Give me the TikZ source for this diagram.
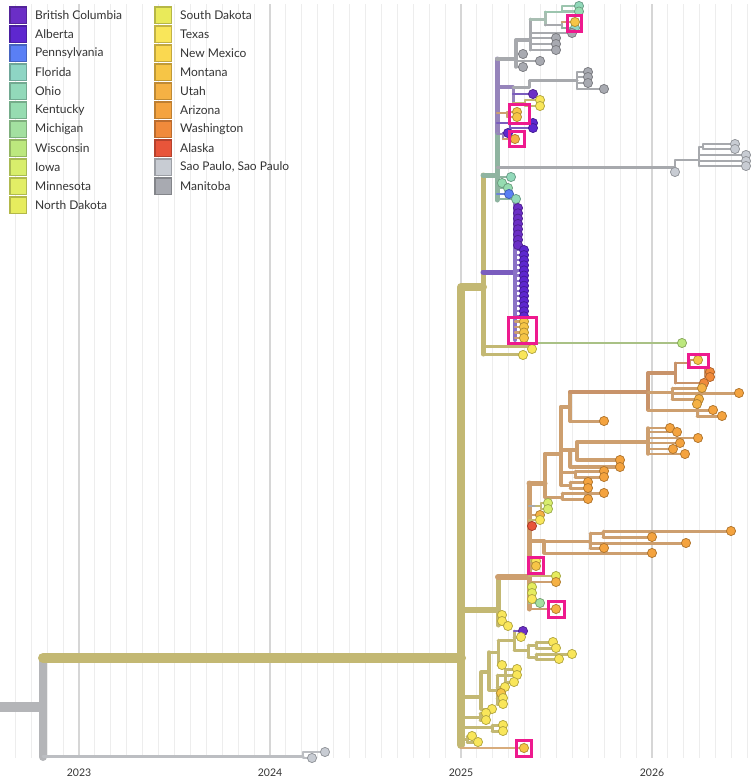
\documentclass[tikz,border=0pt]{standalone}
\usepackage{fontspec}
\setmainfont{Lato}
\definecolor{cBC}{HTML}{6B2EC6}
\definecolor{cAB}{HTML}{5E27CF}
\definecolor{cPA}{HTML}{5A7FF5}
\definecolor{cFL}{HTML}{8ED5C4}
\definecolor{cOH}{HTML}{92D9BA}
\definecolor{cKY}{HTML}{96DCB1}
\definecolor{cMI}{HTML}{A3E0A0}
\definecolor{cWI}{HTML}{BCE87E}
\definecolor{cIA}{HTML}{D8EE6C}
\definecolor{cMN}{HTML}{E2EE66}
\definecolor{cND}{HTML}{E6EC5E}
\definecolor{cSD}{HTML}{E9EA5A}
\definecolor{cTX}{HTML}{F9E65A}
\definecolor{cNM}{HTML}{FAD850}
\definecolor{cMT}{HTML}{F6C546}
\definecolor{cUT}{HTML}{F5B144}
\definecolor{cAZ}{HTML}{F4A33F}
\definecolor{cWA}{HTML}{F08A3B}
\definecolor{cAK}{HTML}{E8553A}
\definecolor{cSP}{HTML}{C8CCD3}
\definecolor{cMB}{HTML}{A8AAB1}
\definecolor{bOl}{HTML}{C3B873}
\definecolor{bRoot}{HTML}{B4B5B8}
\definecolor{bMB}{HTML}{A7A9AD}
\definecolor{bSP}{HTML}{BCBEC2}
\definecolor{bPG}{HTML}{9684BB}
\definecolor{bGG}{HTML}{8FB4A0}
\definecolor{bGr2}{HTML}{A8BEB2}
\definecolor{bGrn}{HTML}{9CC5AE}
\definecolor{bTan}{HTML}{CD9F6F}
\definecolor{bTanD}{HTML}{C8936A}
\definecolor{bTanL}{HTML}{D8AC7C}
\definecolor{bPu}{HTML}{7A5CBE}
\definecolor{bPuL}{HTML}{8B72C6}
\definecolor{bWI}{HTML}{A9C185}
\definecolor{bPA}{HTML}{6C84D8}
\definecolor{bMI}{HTML}{9CC9A0}
\definecolor{gridc}{HTML}{EDEDED}
\definecolor{yearc}{HTML}{D6D6D6}
\definecolor{boxc}{HTML}{EE1A8E}
\definecolor{txt}{HTML}{333333}
\newcommand\tipd[3]{\filldraw[fill=#3, draw=#3!72!black, line width=0.75] (#1,#2) circle[radius=4.6];}
\begin{document}
\begin{tikzpicture}[x=1pt,y=-1pt,line cap=round,line join=round]
\useasboundingbox (0,0) rectangle (753,779);
% grid
\foreach \k in {-4,...,42}{\draw[gridc,line width=1,line cap=butt] ({79+\k*15.9167},4) -- ({79+\k*15.9167},758);}
\foreach \xx in {79,270,461,652}{\draw[yearc,line width=2,line cap=butt] (\xx,4) -- (\xx,758);}
% root
\draw[bRoot,line width=10,line cap=butt] (0,707) -- (43,707);
\draw[bRoot,line width=8] (43,757) -- (43,662);
\draw[bOl,line width=10] (43,658) -- (461,658);
\draw[bSP,line width=3] (43,756) -- (303,756);
\draw[bSP,line width=2.5] (325,752) -- (303,752) -- (303,758) -- (312,758);
% main olive
\draw[bOl,line width=8] (483,287) -- (461,287) -- (461,745);
\draw[bOl,line width=5] (483,175) -- (483,354);
\draw[bGG,line width=5] (483,175) -- (497,175);
\draw[bPG,line width=5] (497,59) -- (497,135);
\draw[bGG,line width=5] (497,135) -- (497,200);
% top gray clade
\draw[bMB,line width=4] (497,59) -- (516,59);
\draw[bMB,line width=3.5] (516,40) -- (516,67);
\draw[bMB,line width=3.5] (516,40) -- (530,40);
\draw[bMB,line width=3] (530,19) -- (530,50);
\draw[bGr2,line width=3] (530,19) -- (545,19);
\draw[bGr2,line width=3] (545,12) -- (545,25);
\draw[bGrn,line width=2.5] (545,12) -- (562,12) (562,6) -- (562,11.5) (562,6) -- (579,6) (562,11.5) -- (579,11.5);
\draw[bMB,line width=2.5] (545,25) -- (562,25) (562,22) -- (562,28);
\draw[bTan,line width=2.5] (562,22) -- (575,22);
\draw[bGG,line width=2.5] (562,28) -- (575,28);
\draw[bMB,line width=2.5] (530,33) -- (572,33);
\draw[bMB,line width=2.5] (530,38) -- (556,38) (530,44) -- (556,44) (530,50) -- (556,50);
\draw[bMB,line width=2.5] (516,54) -- (523,54) (516,61) -- (540,61) (516,67) -- (523,67);
% purple-gray region
\draw[bPG,line width=3.5] (497,87) -- (513,87);
\draw[bPG,line width=3] (513,87) -- (513,103);
\draw[bMB,line width=3] (513,87) -- (529,87) -- (529,80) -- (577,80);
\draw[bMB,line width=2.5] (577,72) -- (577,89) (577,72) -- (588,72) (577,77) -- (588,77) (577,83) -- (588,83) (577,89) -- (604,89);
\draw[bPu,line width=2.5] (513,94) -- (533,94);
\draw[bOl,line width=2.5] (513,103) -- (525,103) (525,100) -- (525,106) (525,100) -- (540,100) (525,106) -- (540,106);
\draw[bTan,line width=2.5] (497,113) -- (507,113) (507,112) -- (507,117) (507,112) -- (517,112) (507,117) -- (517,117);
\draw[bPu,line width=2.5] (497,123) -- (510,123) (510,123) -- (510,128) (510,123) -- (533,123) (510,128) -- (533,128);
\draw[bPG,line width=2.5] (497,134) -- (503,134) (503,133) -- (503,139);
\draw[bPu,line width=2.5] (503,133) -- (508,133);
\draw[bTan,line width=2.5] (503,139) -- (515,139);
% Sao Paulo long branch
\draw[bMB,line width=3] (497,167) -- (675,167);
\draw[bMB,line width=2.5] (675,160) -- (675,172) (675,160) -- (699,160) (699,147) -- (699,166) (699,147) -- (703,147) (703,144) -- (703,149) (703,144) -- (735,144) (703,149) -- (735,149) (699,155) -- (746,155) (699,161) -- (746,161) (699,166) -- (746,166);
% green tips
\draw[bGG,line width=2.5] (497,177) -- (511,177) (497,188) -- (508,188) (497,199) -- (516,199);
\draw[bPA,line width=2.5] (497,194) -- (509,194);
% purple column
\draw[bPu,line width=5] (483,272) -- (515,272);
\draw[bPuL,line width=4] (515,203) -- (515,340);
\foreach \k in {0,...,7}{\draw[bPuL,line width=2.2] (515,{208+5.3*\k}) -- (518,{208+5.3*\k});}
\foreach \k in {0,...,13}{\draw[bPuL,line width=2.2] (515,{250+5.1*\k}) -- (524,{250+5.1*\k});}
\foreach \yy in {321.5,327,332.5,338}{\draw[bTan,line width=2.2] (515,\yy) -- (524,\yy);}
% lower x=483 branches
\draw[bOl,line width=3] (483,346) -- (530,346);
\draw[bOl,line width=2.5] (530,343) -- (530,349);
\draw[bWI,line width=2.5] (530,343) -- (682,343);
\draw[bOl,line width=3] (483,354) -- (523,354);
% olive lower / orange clade base
\draw[bOl,line width=6] (461,610) -- (498,610);
\draw[bOl,line width=5] (498,577) -- (498,625);
\draw[bTan,line width=6] (498,577) -- (529,577);
\draw[bTan,line width=5] (529,483) -- (529,609);
\draw[bOl,line width=2.5] (498,615) -- (502,615) (498,621) -- (502,621) (498,625) -- (508,625);
% orange clade
\draw[bTan,line width=5] (529,483) -- (545,483);
\draw[bTan,line width=4] (545,454) -- (545,497);
\draw[bTan,line width=4] (545,454) -- (561,454);
\draw[bTan,line width=4] (561,407) -- (561,485);
\draw[bTan,line width=4] (561,407) -- (570,407);
\draw[bTan,line width=4] (570,392) -- (570,421);
\draw[bTanD,line width=4] (570,392) -- (648,392);
\draw[bTanD,line width=3.5] (648,373) -- (648,410);
\draw[bTanD,line width=3.5] (648,373) -- (675,373);
\draw[bTanD,line width=3] (675,363) -- (675,383);
\draw[bTanD,line width=2.5] (675,363) -- (690,363) (690,360) -- (690,368) (690,360) -- (698,360) (690,368) -- (705,368) (705,368) -- (705,377) (705,372) -- (710,372) (705,377) -- (710,377) (675,383) -- (704,383);
\draw[bTan,line width=3] (648,392) -- (672,392) (672,388) -- (672,399) (672,388) -- (702,388) (672,393) -- (739,393) (672,399) -- (699,399);
\draw[bTan,line width=3] (648,410) -- (697,410) (697,404) -- (697,416) (697,410) -- (713,410) (697,416) -- (722,416);
\draw[bTan,line width=3] (570,421) -- (604,421);
\draw[bTan,line width=3.5] (561,450) -- (570,450) (570,450) -- (570,467) (570,450) -- (577,450) (577,442) -- (577,460) (577,460) -- (620,460) (570,467) -- (620,467);
\draw[bTan,line width=3.5] (577,442) -- (648,442) (648,428) -- (648,454);
\draw[bTan,line width=2.5] (648,428) -- (670,428) (648,432) -- (677,432) (648,438) -- (698,438) (648,443) -- (680,443) (648,449) -- (673,449) (648,454) -- (685,454);
\draw[bTan,line width=3] (561,472) -- (575,472) (575,471) -- (575,477) (575,471) -- (604,471) (575,477) -- (604,477);
\draw[bTan,line width=3] (561,485) -- (570,485) (570,482) -- (570,488) (570,482) -- (588,482) (570,488) -- (588,488);
\draw[bTan,line width=3] (545,497) -- (562,497) (562,493) -- (562,499) (562,493) -- (604,493) (562,499) -- (588,499);
% under 529
\draw[bMB,line width=2.5] (529,506) -- (536,506);
\draw[bOl,line width=2.5] (536,506) -- (541,506) (541,503) -- (541,509) (541,503) -- (548,503) (541,509) -- (548,509);
\draw[bTan,line width=2.5] (529,515) -- (540,515);
\draw[bOl,line width=2.5] (529,520) -- (540,520);
\draw[bTan,line width=4] (529,541) -- (544,541);
\draw[bTan,line width=3.5] (544,541) -- (544,553);
\draw[bTan,line width=3] (544,541) -- (590,541) (590,533) -- (590,548) (590,533) -- (603,533) (603,531) -- (603,537) (603,531) -- (731,531) (603,537) -- (652,537) (590,543) -- (686,543) (590,548) -- (604,548) (544,553) -- (652,553);
\draw[bOl,line width=2.5] (529,561) -- (536,561);
\draw[bTan,line width=2.5] (529,566) -- (536,566);
\draw[bOl,line width=2.5] (529,576) -- (556,576);
\draw[bTan,line width=2.5] (529,582) -- (556,582);
\draw[bMI,line width=2.5] (529,603) -- (540,603);
\draw[bTan,line width=2.5] (529,609) -- (556,609);
% bottom clade
\draw[bOl,line width=4] (461,697) -- (481,697);
\draw[bOl,line width=3.5] (481,672) -- (481,709) (481,672) -- (489,672) (489,652) -- (489,690);
\draw[bOl,line width=3] (489,652) -- (498,652) (498,640) -- (498,665) (498,640) -- (514,640) (514,631) -- (514,650) (514,637) -- (521,637) (514,650) -- (528,650) (528,645) -- (528,657) (528,645) -- (536,645) (536,642) -- (536,648) (536,642) -- (553,642) (536,648) -- (556,648) (528,657) -- (536,657) (536,654) -- (536,659) (536,654) -- (572,654) (536,659) -- (559,659) (498,665) -- (502,665);
\draw[bPu,line width=2.5] (514,631) -- (523,631);
\draw[bOl,line width=3] (489,690) -- (497,690) (497,675) -- (497,704) (497,675) -- (505,675) (505,669) -- (505,682) (505,669) -- (517,669) (505,675) -- (517,675) (505,682) -- (514,682) (497,687) -- (505,687) (497,693) -- (501,693) (497,698) -- (503,698) (497,704) -- (503,704) (481,709) -- (492,709);
\draw[bOl,line width=3] (461,717) -- (480,717) (480,713) -- (480,720) (480,713) -- (486,713) (480,720) -- (486,720);
\draw[bOl,line width=3] (461,727) -- (492,727) (492,725) -- (492,731) (492,725) -- (503,725) (492,731) -- (503,731);
\draw[bOl,line width=3] (461,739) -- (467,739) (467,736) -- (467,742) (467,736) -- (472,736) (467,742) -- (478,742);
\draw[bTanL,line width=2.5] (461,748) -- (524,748);
% tips
\foreach \a/\b/\c in {579/6/cOH, 579/11.5/cKY, 575/28/cFL, 575/22/cMT, 572/33/cMB, 556/38/cMB, 556/44/cMB, 556/50/cMB, 523/54/cMB, 540/61/cMB, 523/67/cMB, 588/72/cMB, 588/77/cMB, 588/83/cMB, 604/89/cMB, 533/94/cBC, 540/100/cTX, 540/106/cTX, 517/112/cMT, 517/117/cMT, 533/123/cAB, 533/128/cAB, 508/133/cAB, 515/139/cUT, 675/172/cSP, 735/144/cSP, 735/149/cSP, 746/155/cSP, 746/161/cSP, 746/166/cSP, 511/177/cOH, 502/183/cKY, 508/188/cKY, 509/194/cPA, 516/199/cOH}{\tipd{\a}{\b}{\c}}
\foreach \k in {0,...,7}{\tipd{518}{208+5.3*\k}{cBC}}
\foreach \k in {0,...,13}{\tipd{524}{250+5.1*\k}{cAB}}
\foreach \yy in {321.5,327,332.5,338}{\tipd{524}{\yy}{cMT}}
\foreach \a/\b/\c in {682/343/cWI, 532/349/cTX, 523/355/cTX, 698/360/cMT, 710/372/cWA, 710/377/cWA, 704/383/cWA, 702/388/cUT, 739/393/cAZ, 699/399/cUT, 697/404/cUT, 713/410/cAZ, 722/416/cAZ, 604/421/cAZ, 670/428/cAZ, 677/432/cAZ, 698/438/cAZ, 680/443/cAZ, 673/449/cAZ, 685/454/cAZ, 620/460/cAZ, 620/467/cAZ, 604/471/cAZ, 604/477/cAZ, 588/482/cAZ, 588/488/cAZ, 604/493/cAZ, 588/499/cAZ, 548/503/cIA, 548/509/cIA, 540/515/cUT, 540/520/cTX, 532/526/cAK, 731/531/cAZ, 652/537/cAZ, 686/543/cAZ, 604/548/cAZ, 652/553/cAZ, 536/561/cTX, 536/566/cMT, 556/576/cND, 556/582/cUT, 532/587/cND, 532/593/cND, 532/599/cTX, 540/603/cMI, 556/609/cUT, 502/615/cTX, 502/621/cTX, 508/626/cTX, 523/631/cBC, 521/637/cTX, 553/642/cTX, 556/648/cTX, 572/654/cTX, 559/659/cTX, 502/665/cTX, 517/669/cTX, 517/675/cTX, 514/682/cTX, 505/687/cTX, 501/693/cMT, 503/698/cTX, 503/704/cTX, 492/709/cTX, 486/713/cTX, 486/720/cTX, 503/725/cTX, 503/731/cTX, 472/736/cTX, 478/742/cTX, 524/748/cMT, 312/758/cSP, 325/752/cSP}{\tipd{\a}{\b}{\c}}
% highlight boxes
\draw[boxc,line width=3,line cap=butt,line join=miter] (567,15) rectangle (581,31) (509,104) rectangle (529,123) (509,131) rectangle (524,146) (508,317) rectangle (536,343) (688,354) rectangle (708,367) (528,557) rectangle (543,573) (548,601) rectangle (564,617) (516,740) rectangle (531,756);
% legend
\foreach \t/\c [count=\i from 0] in {British Columbia/cBC, Alberta/cAB, Pennsylvania/cPA, Florida/cFL, Ohio/cOH, Kentucky/cKY, Michigan/cMI, Wisconsin/cWI, Iowa/cIA, Minnesota/cMN, North Dakota/cND}{
 \filldraw[fill=\c, draw=\c!78!black, line width=1.3, line join=miter] (10,{7+19*\i}) rectangle ++(16.5,16.5);
 \node[anchor=west, text=txt, font=\fontsize{12}{14}\selectfont, inner sep=0] (la\i) at (35,{15.3+19*\i}) {\t};}
\foreach \t/\c [count=\i from 0] in {South Dakota/cSD, Texas/cTX, New Mexico/cNM, Montana/cMT, Utah/cUT, Arizona/cAZ, Washington/cWA, Alaska/cAK, {Sao Paulo, Sao Paulo}/cSP, Manitoba/cMB}{
 \filldraw[fill=\c, draw=\c!78!black, line width=1.3, line join=miter] (155,{7+19*\i}) rectangle ++(16.5,16.5);
 \node[anchor=west, text=txt, font=\fontsize{12}{14}\selectfont, inner sep=0] (lb\i) at (180,{15.3+19*\i}) {\t};}
% axis labels
\foreach \yr/\xx in {2023/79,2024/270,2025/461,2026/652}{\node[text=txt, font=\fontsize{10.5}{12}\selectfont, inner sep=0] (y\yr) at (\xx,773) {\yr};}
\end{tikzpicture}
\end{document}
